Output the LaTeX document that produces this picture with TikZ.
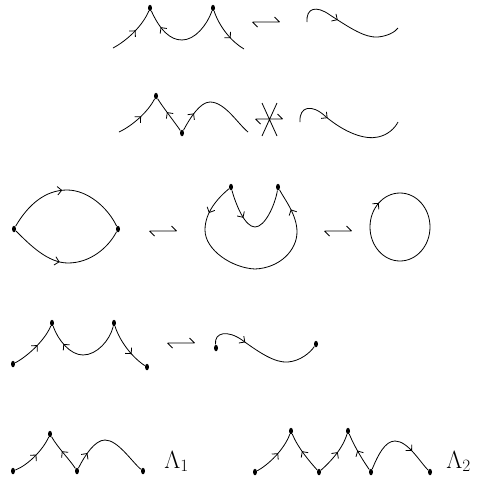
\documentclass[tikz,border=0pt]{standalone}
\usepackage{amsmath,amssymb}
\usepackage{tikz}
\usetikzlibrary{arrows.meta, shapes.geometric, decorations.markings}

\begin{document}
\begin{tikzpicture}[
    x=1pt, y=-1pt,
    line width=0.8pt,
    >={Straight Barb[angle=90:6pt]},
    dot/.style={fill, ellipse, inner sep=0pt, minimum width=4pt, minimum height=6.5pt},
    fwd/.style={postaction={decorate, decoration={markings, mark=at position #1 with {\arrow{>}}}}},
    bwd/.style={postaction={decorate, decoration={markings, mark=at position #1 with {\arrowreversed{>}}}}},
    harp/.pic={\draw (-13.5,0) -- (13.5,0) (-13.5,0) -- ++(5,5) (13.5,0) -- ++(-5,-5);},
    noharp/.pic={\draw (-13.5,0) -- (13.5,0) (-13.5,0) -- ++(5,5) (13.5,0) -- ++(-5,-5);
                 \draw (-7,-16) -- (8,17) (8,-16) -- (-7,17);},
    lab/.style={font=\fontsize{26}{30}\selectfont, anchor=base west, inner sep=0pt},
]
\useasboundingbox (0,0) rectangle (479,483);

% Row 1: two cusps against one arc
\coordinate (a0) at (113,48);
\node[dot] (a1) at (150,8) {};
\coordinate (a2) at (182,40);
\node[dot] (a3) at (213,8) {};
\coordinate (a4) at (244,49);
\draw[fwd=0.55] (a0) .. controls (128,40) and (143,25) .. (a1);
\draw[bwd=0.42] (a1) .. controls (160,30) and (170,40) .. (a2);
\draw (a2) .. controls (195,40) and (207,25) .. (a3);
\draw[fwd=0.65] (a3) .. controls (220,28) and (232,42) .. (a4);
\pic at (266,22) {harp};
\coordinate (b0) at (307,22);
\coordinate (b1) at (398,28);
\draw[fwd=0.39] (b0) .. controls (306,8) and (316,5) .. (330,15) .. controls (350,28) and (365,38) .. (378,37) .. controls (388,36) and (395,32) .. (b1);

% Row 2: cusp and valley, crossed out
\coordinate (c0) at (119,132);
\node[dot] (c1) at (156,96) {};
\node[dot] (c2) at (182,133) {};
\coordinate (c3) at (248,132);
\draw[fwd=0.55] (c0) .. controls (132,126) and (148,112) .. (c1);
\draw[bwd=0.42] (c1) .. controls (162,106) and (176,124) .. (c2);
\draw[fwd=0.22] (c2) .. controls (190,118) and (200,102) .. (210,102) .. controls (225,102) and (238,124) .. (c3);
\pic at (269,119) {noharp};
\coordinate (d0) at (300,122);
\coordinate (d1) at (398,122);
\draw[fwd=0.33] (d0) .. controls (299,106) and (312,104) .. (325,116) .. controls (345,133) and (365,140) .. (378,137) .. controls (388,135) and (395,128) .. (d1);

% Row 3: closed loops
\node[dot] (e0) at (14,229) {};
\node[dot] (e1) at (118,229) {};
\draw[fwd=0.47] (e0) .. controls (28,205) and (45,190) .. (67,190) .. controls (88,190) and (108,208) .. (e1);
\draw[fwd=0.44] (e0) .. controls (30,245) and (48,263) .. (68,263) .. controls (90,263) and (108,248) .. (e1);
\pic at (163,231) {harp};
\node[dot] (f0) at (231,187) {};
\node[dot] (f1) at (278,187) {};
\draw[fwd=0.33] (f0) .. controls (236,205) and (245,227) .. (255,227) .. controls (265,227) and (275,205) .. (f1);
\draw[fwd=0.14, fwd=0.9] (f0) .. controls (218,198) and (205,212) .. (205,230) .. controls (205,250) and (232,268) .. (255,269) .. controls (280,268) and (297,250) .. (297,232) .. controls (297,215) and (285,200) .. (f1);
\pic at (338,231) {harp};
\draw[fwd=0.63] (400,227) ellipse [x radius=30, y radius=34];

% Row 4: open strands with end points
\node[dot] (g0) at (13,364) {};
\node[dot] (g1) at (52,323) {};
\coordinate (g2) at (83,355);
\node[dot] (g3) at (114,323) {};
\node[dot] (g4) at (147,367) {};
\draw[fwd=0.55] (g0) .. controls (28,356) and (45,340) .. (g1);
\draw[bwd=0.47] (g1) .. controls (58,340) and (70,355) .. (g2);
\draw (g2) .. controls (97,355) and (110,340) .. (g3);
\draw[fwd=0.65] (g3) .. controls (120,342) and (133,358) .. (g4);
\pic at (181,343) {harp};
\node[dot] (h0) at (216,348) {};
\node[dot] (h1) at (316,344) {};
\draw[fwd=0.33] (h0) .. controls (214,332) and (228,330) .. (242,340) .. controls (260,353) and (275,363) .. (288,362) .. controls (300,361) and (310,353) .. (h1);

% Row 5: Lambda_1 and Lambda_2
\node[dot] (k0) at (13,471) {};
\node[dot] (k1) at (50,434) {};
\node[dot] (k2) at (77,471) {};
\node[dot] (k3) at (143,471) {};
\draw[fwd=0.55] (k0) .. controls (28,465) and (43,450) .. (k1);
\draw[bwd=0.45] (k1) .. controls (58,448) and (70,460) .. (k2);
\draw[fwd=0.2] (k2) .. controls (85,455) and (95,440) .. (105,440) .. controls (118,440) and (132,462) .. (k3);
\node[lab] (lam1) at (164,468) {$\Lambda_1$};

\node[dot] (m0) at (255,472) {};
\node[dot] (m1) at (291,431) {};
\node[dot] (m2) at (319,472) {};
\node[dot] (m3) at (348,431) {};
\node[dot] (m4) at (371,472) {};
\node[dot] (m5) at (430,472) {};
\draw[fwd=0.55] (m0) .. controls (268,465) and (284,450) .. (m1);
\draw[bwd=0.45] (m1) .. controls (298,448) and (310,462) .. (m2);
\draw[fwd=0.55] (m2) .. controls (330,462) and (342,450) .. (m3);
\draw[bwd=0.45] (m3) .. controls (355,448) and (364,462) .. (m4);
\draw[fwd=0.7] (m4) .. controls (378,455) and (385,441) .. (395,441) .. controls (408,441) and (420,462) .. (m5);
\node[lab] (lam2) at (446,468) {$\Lambda_2$};

\end{tikzpicture}
\end{document}
